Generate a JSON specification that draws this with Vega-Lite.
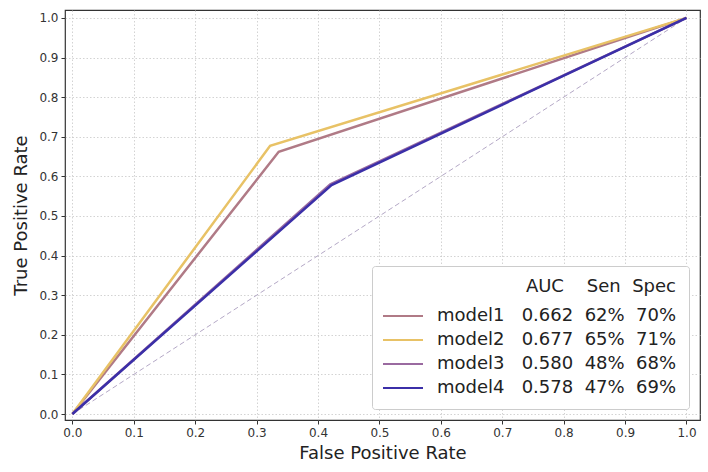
{
  "$schema": "https://vega.github.io/schema/vega-lite/v6.json",
  "width": 635,
  "height": 410,
  "autosize": {"type": "none"},
  "padding": {"left": 65, "top": 10, "right": 8, "bottom": 52},
  "background": "white",
  "config": {
    "font": "DejaVu Sans",
    "view": {"stroke": "#333333", "strokeWidth": 1.2},
    "axis": {
      "domain": false,
      "grid": true,
      "gridColor": "#c8c8c8",
      "gridDash": [1.5, 2],
      "gridWidth": 0.8,
      "tickColor": "#333333",
      "tickSize": 4,
      "labelColor": "#333333",
      "labelFontSize": 12,
      "titleFontSize": 18,
      "titleFontWeight": "normal",
      "titleColor": "#222222"
    }
  },
  "layer": [
    {
      "data": {"values": [{"fpr": 0, "tpr": 0, "fpr2": 1, "tpr2": 1}]},
      "mark": {"type": "rule", "strokeDash": [5, 3], "color": "#b4a8c6", "strokeWidth": 1},
      "encoding": {
        "x": {"field": "fpr", "type": "quantitative", "scale": {"domain": [-0.012, 1.022], "nice": false, "zero": false}, "axis": {"title": "False Positive Rate", "values": [0, 0.1, 0.2, 0.3, 0.4, 0.5, 0.6, 0.7, 0.8, 0.9, 1.0], "format": ".1f", "titlePadding": 6, "labelPadding": 3}},
        "y": {"field": "tpr", "type": "quantitative", "scale": {"domain": [-0.015, 1.02], "nice": false, "zero": false}, "axis": {"title": "True Positive Rate", "values": [0, 0.1, 0.2, 0.3, 0.4, 0.5, 0.6, 0.7, 0.8, 0.9, 1.0], "format": ".1f", "titlePadding": 8, "labelPadding": 3}},
        "x2": {"field": "fpr2"},
        "y2": {"field": "tpr2"}
      }
    },
    {
      "data": {
        "values": [
          {"model": "model1", "fpr": 0, "tpr": 0},
          {"model": "model1", "fpr": 0.336, "tpr": 0.662},
          {"model": "model1", "fpr": 1, "tpr": 1},
          {"model": "model2", "fpr": 0, "tpr": 0},
          {"model": "model2", "fpr": 0.322, "tpr": 0.677},
          {"model": "model2", "fpr": 1, "tpr": 1},
          {"model": "model3", "fpr": 0, "tpr": 0},
          {"model": "model3", "fpr": 0.42, "tpr": 0.58},
          {"model": "model3", "fpr": 1, "tpr": 1},
          {"model": "model4", "fpr": 0, "tpr": 0},
          {"model": "model4", "fpr": 0.422, "tpr": 0.578},
          {"model": "model4", "fpr": 1, "tpr": 1}
        ]
      },
      "mark": {"type": "line", "strokeWidth": 2.5},
      "encoding": {
        "x": {"field": "fpr", "type": "quantitative", "axis": {"title": "False Positive Rate", "values": [0, 0.1, 0.2, 0.3, 0.4, 0.5, 0.6, 0.7, 0.8, 0.9, 1.0], "format": ".1f", "titlePadding": 6, "labelPadding": 3}},
        "y": {"field": "tpr", "type": "quantitative", "axis": {"title": "True Positive Rate", "values": [0, 0.1, 0.2, 0.3, 0.4, 0.5, 0.6, 0.7, 0.8, 0.9, 1.0], "format": ".1f", "titlePadding": 8, "labelPadding": 3}},
        "color": {
          "field": "model",
          "type": "nominal",
          "scale": {"domain": ["model1", "model2", "model3", "model4"], "range": ["#b07a86", "#e8c266", "#9a6aa0", "#3b2fa8"]},
          "legend": {
            "orient": "bottom-right",
            "offset": 11,
            "title": "AUC\u00a0\u00a0\u00a0\u00a0Sen\u00a0\u00a0Spec",
            "titleAnchor": "end",
            "titleFontSize": 18,
            "titleFontWeight": "normal",
            "titleColor": "#222222",
            "titlePadding": 9,
            "labelFontSize": 18,
            "labelColor": "#222222",
            "labelLimit": 400,
            "labelOffset": 23,
            "symbolOffset": 8,
            "symbolType": "M-2,0H2",
            "symbolSize": 400,
            "symbolStrokeWidth": 2,
            "rowPadding": 4,
            "padding": 12,
            "fillColor": "white",
            "strokeColor": "#cccccc",
            "cornerRadius": 3,
            "labelExpr": "datum.label == 'model1' ? 'model1\u00a0\u00a0\u00a00.662\u00a0\u00a062%\u00a0\u00a070%' : datum.label == 'model2' ? 'model2\u00a0\u00a0\u00a00.677\u00a0\u00a065%\u00a0\u00a071%' : datum.label == 'model3' ? 'model3\u00a0\u00a0\u00a00.580\u00a0\u00a048%\u00a0\u00a068%' : 'model4\u00a0\u00a0\u00a00.578\u00a0\u00a047%\u00a0\u00a069%'"
          }
        }
      }
    }
  ]
}
